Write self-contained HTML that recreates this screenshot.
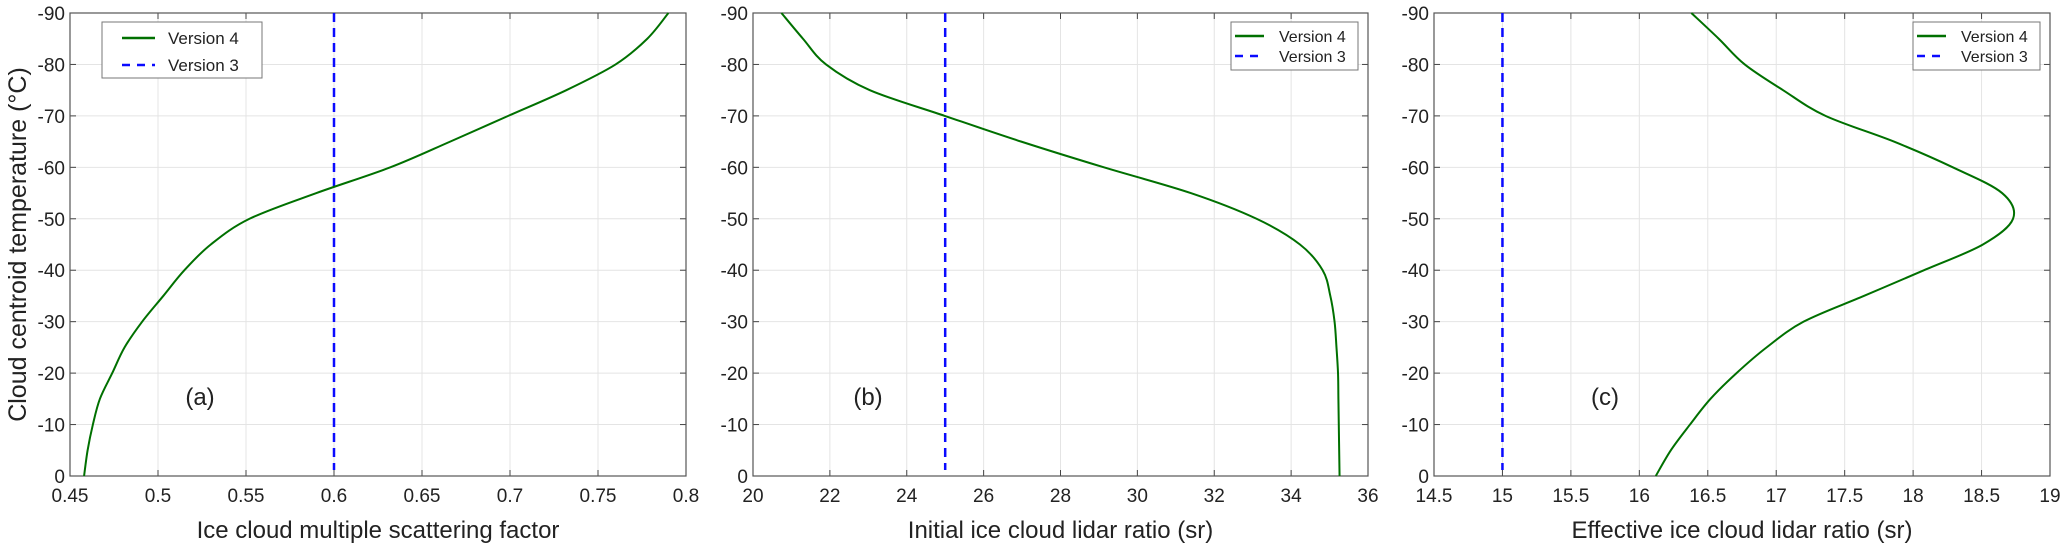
<!DOCTYPE html>
<html><head><meta charset="utf-8"><style>
body{margin:0;background:#fff}
svg{display:block;font-family:"Liberation Sans",Arial,sans-serif}
</style></head><body>
<svg id="c" width="2067" height="547"></svg>
<script>
const temps = [0,-5,-10,-15,-20,-25,-30,-35,-40,-45,-50,-55,-60,-65,-70,-75,-80,-85,-90];
const seriesA = [0.458,0.460,0.463,0.467,0.474,0.481,0.491,0.503,0.515,0.530,0.552,0.590,0.632,0.666,0.699,0.732,0.760,0.778,0.790];
const tempsB = temps;
const seriesB = [35.26,35.25,35.24,35.23,35.22,35.18,35.13,35.02,34.82,34.23,33.1,31.39,29.13,26.98,24.99,23.04,21.9,21.3,20.74];
const tempsC = temps;
const seriesC = [16.12,16.23,16.37,16.52,16.71,16.93,17.2,17.64,18.08,18.51,18.73,18.65,18.29,17.86,17.36,17.05,16.77,16.58,16.38];
const v3 = [0.6, 25, 15];
const xTicksA = [0.45,0.5,0.55,0.6,0.65,0.7,0.75,0.8];
const xTicksB = [20,22,24,26,28,30,32,34,36];
const xTicksC = [14.5,15,15.5,16,16.5,17,17.5,18,18.5,19];
const yTicks = [0,-10,-20,-30,-40,-50,-60,-70,-80,-90];
const xLabels = ["Ice cloud multiple scattering factor","Initial ice cloud lidar ratio (sr)","Effective ice cloud lidar ratio (sr)"];
const panelLabels = ["(a)","(b)","(c)"];

const NS="http://www.w3.org/2000/svg";
const svg=document.getElementById('c');
function el(tag,attrs,parent){const e=document.createElementNS(NS,tag);for(const k in attrs)e.setAttribute(k,attrs[k]);(parent||svg).appendChild(e);return e;}
const TOP=13,BOT=476;
const yS=t=>BOT+t/90*(BOT-TOP);
const panels=[
 {l:70,r:686,min:0.45,max:0.8,ticks:xTicksA,fmt:v=>String(v),T:temps,S:seriesA,leg:[102,22,160,56],lab:[200,405]},
 {l:753,r:1368,min:20,max:36,ticks:xTicksB,fmt:v=>String(v),T:tempsB,S:seriesB,leg:[1231,22,127,48],lab:[868,405]},
 {l:1434,r:2050,min:14.5,max:19,ticks:xTicksC,fmt:v=>String(v),T:tempsC,S:seriesC,leg:[1913,22,127,48],lab:[1605,405]}
];
function smoothPath(pts){let d=`M${pts[0][0]},${pts[0][1]}`;for(let i=0;i<pts.length-1;i++){const p0=pts[i-1]||pts[i],p1=pts[i],p2=pts[i+1],p3=pts[i+2]||p2;const c1=[p1[0]+(p2[0]-p0[0])/6,p1[1]+(p2[1]-p0[1])/6],c2=[p2[0]-(p3[0]-p1[0])/6,p2[1]-(p3[1]-p1[1])/6];d+=` C${c1[0]},${c1[1]} ${c2[0]},${c2[1]} ${p2[0]},${p2[1]}`;}return d;}
panels.forEach((p,i)=>{
 const xS=v=>p.l+(v-p.min)/(p.max-p.min)*(p.r-p.l);
 const g=el('g',{});
 
 
 p.ticks.forEach(v=>{const x=xS(v);
  const gl=el('line',{x1:x,x2:x,y1:TOP,y2:BOT,stroke:'#e4e4e4','stroke-width':1},g);
  
  el('line',{x1:x,x2:x,y1:BOT,y2:BOT-6,stroke:'#444'},g);el('line',{x1:x,x2:x,y1:TOP,y2:TOP+6,stroke:'#444'},g);
  const t=el('text',{x:x,y:BOT+26,'font-size':19,'text-anchor':'middle',fill:'#222'},g);t.textContent=p.fmt(v);
  });
 yTicks.forEach(v=>{const y=yS(v);
  const gl=el('line',{x1:p.l,x2:p.r,y1:y,y2:y,stroke:'#e4e4e4','stroke-width':1},g);
  
  el('line',{x1:p.l,x2:p.l+6,y1:y,y2:y,stroke:'#444'},g);el('line',{x1:p.r,x2:p.r-6,y1:y,y2:y,stroke:'#444'},g);
  const t=el('text',{x:p.l-5,y:y+7,'font-size':19,'text-anchor':'end',fill:'#222'},g);t.textContent=String(v);
  });
 const box=el('rect',{x:p.l,y:TOP,width:p.r-p.l,height:BOT-TOP,fill:'none',stroke:'#555','stroke-width':1.2},g);
 
 const vx=xS(v3[i]);
 const dl=el('line',{x1:vx,x2:vx,y1:TOP,y2:BOT-6,stroke:'#0a0aff','stroke-width':2.5,'stroke-dasharray':'9,6'},g);
 
 const pts=p.T.map((t,k)=>[xS(p.S[k]),yS(t)]);
 const cv=el('path',{d:smoothPath(pts),fill:'none',stroke:'#007000','stroke-width':2},g);
 
 const xl=el('text',{x:(p.l+p.r)/2,y:BOT+62,'font-size':24,'text-anchor':'middle',fill:'#222'},g);xl.textContent=xLabels[i];
 
 const pl=el('text',{x:p.lab[0],y:p.lab[1],'font-size':24,'text-anchor':'middle',fill:'#222'},g);pl.textContent=panelLabels[i];
 
 const [lx,ly,lw,lh]=p.leg;const big=i===0;
 const lg=el('g',{},g);
 el('rect',{x:lx,y:ly,width:lw,height:lh,fill:'#fff',stroke:'#777','stroke-width':1},lg);
 const fs=big?17:16,r1=ly+(big?16:14),r2=ly+(big?43:34);
 el('line',{x1:lx+(big?20:4),x2:lx+(big?53:33),y1:r1,y2:r1,stroke:'#007000','stroke-width':2.5},lg);
 el('line',{x1:lx+(big?20:4),x2:lx+(big?53:33),y1:r2,y2:r2,stroke:'#0a0aff','stroke-width':2.5,'stroke-dasharray':'8,7'},lg);
 const t1=el('text',{x:lx+(big?66:48),y:r1+6,'font-size':fs,fill:'#222'},lg);t1.textContent='Version 4';
 
 const t2=el('text',{x:lx+(big?66:48),y:r2+6,'font-size':fs,fill:'#222'},lg);t2.textContent='Version 3';
 
});
const yt=el('text',{x:0,y:0,'font-size':25,'text-anchor':'middle',fill:'#222',transform:`translate(26,${(TOP+BOT)/2}) rotate(-90)`});
yt.textContent='Cloud centroid temperature (°C)';


</script>
</body></html>
